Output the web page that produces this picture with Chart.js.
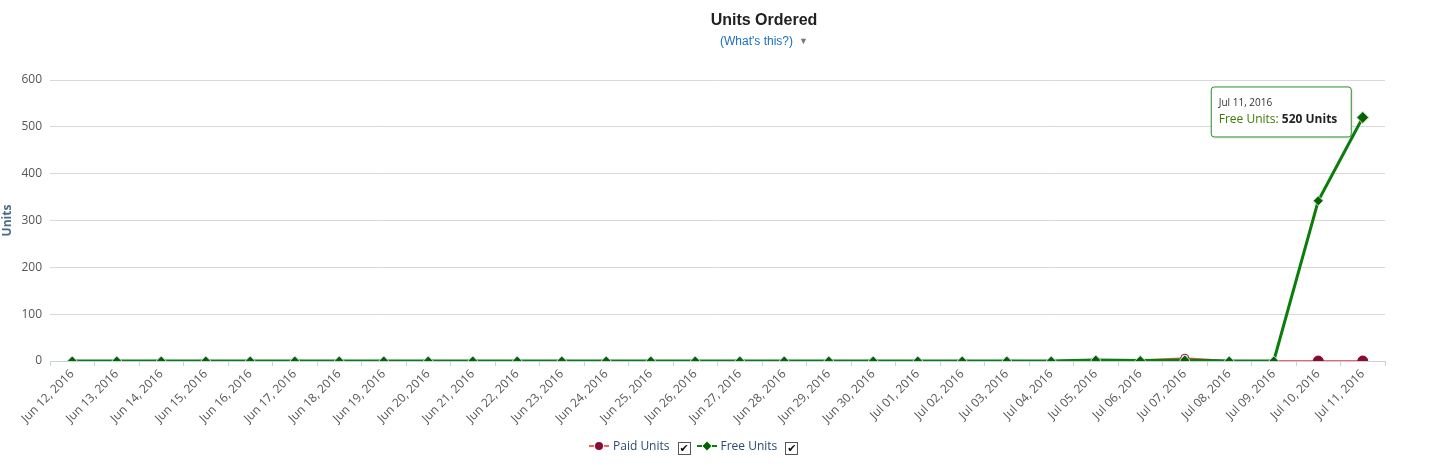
<!DOCTYPE html>
<html>
<head>
<meta charset="utf-8">
<script src="https://cdn.jsdelivr.net/npm/chart.js@4"></script>
<style>
  html, body { margin: 0; padding: 0; background: #fff; }
  .wrap { position: relative; width: 1441px; height: 471px; }
  canvas { position: absolute; left: 0; top: 0; }
  .title { position: absolute; left: 0; width: 1528px; top: 11px; text-align: center;
    font: bold 16px "Liberation Sans", Arial, sans-serif; color: #222; }
  .help { position: absolute; left: 0; width: 1528px; top: 34px; text-align: center;
    font: 12px "Liberation Sans", Arial, sans-serif; color: #1a6fc4; }
  .help .caret { color: #777; font-size: 9px; margin-left: 6px; position: relative; top: -1px; }
  .legend { position: absolute; top: 437px; left: 589px; font: 12px "Open Sans", sans-serif; color: #2d4a6e; }
  .legend span.item { display: inline-block; margin-right: 6px; }
  .legend .sym { display: inline-block; width: 20px; height: 10px; position: relative; vertical-align: -1px; margin-right: 4px; }
  .legend .sym i { position: absolute; top: 4px; height: 2px; width: 5px; }
  .legend .sym b { position: absolute; left: 6px; top: 1px; width: 8px; height: 8px; }
  .legend .box { display: inline-block; width: 11px; height: 11px; border: 1px solid #555; vertical-align: -2px;
    margin-left: 8px; font: bold 11px/11px "DejaVu Sans", sans-serif; text-align: center; color: #111; }
</style>
</head>
<body>
<div class="wrap">
  <canvas id="unitsChart" width="1441" height="471"></canvas>
  <div class="title">Units Ordered</div>
  <div class="help">(What's this?)<span class="caret">&#9660;</span></div>
  <div class="legend" id="legend"></div>
</div>
<script>
  const categories = [
    'Jun 12, 2016', 'Jun 13, 2016', 'Jun 14, 2016', 'Jun 15, 2016', 'Jun 16, 2016',
    'Jun 17, 2016', 'Jun 18, 2016', 'Jun 19, 2016', 'Jun 20, 2016', 'Jun 21, 2016',
    'Jun 22, 2016', 'Jun 23, 2016', 'Jun 24, 2016', 'Jun 25, 2016', 'Jun 26, 2016',
    'Jun 27, 2016', 'Jun 28, 2016', 'Jun 29, 2016', 'Jun 30, 2016', 'Jul 01, 2016',
    'Jul 02, 2016', 'Jul 03, 2016', 'Jul 04, 2016', 'Jul 05, 2016', 'Jul 06, 2016',
    'Jul 07, 2016', 'Jul 08, 2016', 'Jul 09, 2016', 'Jul 10, 2016', 'Jul 11, 2016'
  ];
  const paidUnits = [0, 0, 0, 0, 0, 0, 0, 0, 0, 0, 0, 0, 0, 0, 0, 0, 0, 0, 0, 0, 0, 0, 0, 2, 1, 6, 0, 0, 0, 0];
  const freeUnits = [0, 0, 0, 0, 0, 0, 0, 0, 0, 0, 0, 0, 0, 0, 0, 0, 0, 0, 0, 0, 0, 0, 0, 2, 1, 2, 0, 0, 342, 520];
  const yTicks = [0, 100, 200, 300, 400, 500, 600];

  // tooltip shown on the last free units point
  const tipDataset = 1;
  const tipIndex = 29;
  // paid point drawn hollow (hover remains)
  const hollowPaid = 25;

  const freeRadius = freeUnits.map(function (v, i) { return i === tipIndex ? 6 : 5; });
  // paid markers hidden under the free diamonds where both series meet
  const paidRadius = paidUnits.map(function (v, i) {
    if (i === hollowPaid) return 4;
    return v === freeUnits[i] ? 2.5 : 5;
  });
  const paidFill = paidUnits.map(function (v, i) { return i === hollowPaid ? '#fff' : '#8b0a2e'; });

  const staticTip = {
    id: 'staticTip',
    afterDatasetsDraw: function (chart) {
      const ctx = chart.ctx;
      const pt = chart.getDatasetMeta(tipDataset).data[tipIndex];
      const w = 140, h = 50;
      const left = pt.x - 12 - w;
      const top = pt.y - 31;
      ctx.save();
      ctx.shadowColor = 'rgba(0,0,0,0.15)';
      ctx.shadowBlur = 3;
      ctx.shadowOffsetX = 1;
      ctx.shadowOffsetY = 1;
      ctx.beginPath();
      ctx.roundRect(left + 0.5, top + 0.5, w, h, 3);
      ctx.fillStyle = '#fff';
      ctx.fill();
      ctx.shadowColor = 'transparent';
      ctx.strokeStyle = '#2e8b2e';
      ctx.lineWidth = 1;
      ctx.stroke();
      ctx.textBaseline = 'alphabetic';
      ctx.fillStyle = '#333';
      ctx.font = '10px "Open Sans", sans-serif';
      ctx.fillText(categories[tipIndex], left + 8, top + 20);
      ctx.font = '12px "Open Sans", sans-serif';
      ctx.fillStyle = '#3a7d00';
      const lbl = chart.data.datasets[tipDataset].label + ': ';
      ctx.fillText(lbl, left + 8, top + 37);
      const lw = ctx.measureText(lbl).width;
      ctx.font = 'bold 12px "Open Sans", sans-serif';
      ctx.fillStyle = '#222';
      ctx.fillText(freeUnits[tipIndex] + ' Units', left + 8 + lw, top + 37);
      ctx.restore();
    }
  };

  const ctx = document.getElementById('unitsChart').getContext('2d');

  const chart = new Chart(ctx, {
    type: 'line',
    data: {
      labels: categories,
      datasets: [{
        label: 'Paid Units',
        data: paidUnits,
        borderColor: '#ff5c5c',
        borderWidth: 2,
        backgroundColor: '#8b0a2e',
        pointBackgroundColor: paidFill,
        pointBorderColor: '#8b0a2e',
        pointBorderWidth: 1,
        pointRadius: paidRadius,
        pointStyle: 'circle',
        order: 2,
      },
      {
        label: 'Free Units',
        data: freeUnits,
        borderColor: '#0a7d0a',
        borderWidth: 3,
        backgroundColor: '#006400',
        pointBackgroundColor: '#006400',
        pointBorderColor: '#d4dad4',
        pointBorderWidth: 1,
        pointRadius: freeRadius,
        pointStyle: 'rectRot',
        order: 1,
      }]
    },
    options: {
      responsive: false,
      animation: false,
      layout: { padding: { top: 80, right: 56, left: 0, bottom: 0 } },
      plugins: {
        legend: { display: false },
        tooltip: { enabled: false },
        title: { display: false },
      },
      scales: {
        x: {
          offset: true,
          grid: {
            offset: true,
            drawOnChartArea: false,
            drawTicks: true,
            tickLength: 5,
            color: '#c6d2de',
          },
          border: { color: '#c6d2de' },
          ticks: {
            minRotation: 45,
            maxRotation: 45,
            autoSkip: false,
            padding: 1,
            color: '#555',
            font: { family: '"Open Sans", sans-serif', size: 12 },
          },
          afterFit: function (scale) { scale.height = 110; },
        },
        y: {
          min: 0,
          max: 600,
          afterBuildTicks: function (scale) {
            scale.ticks = yTicks.map(function (v) { return { value: v }; });
          },
          grid: { color: '#d8d8d8', drawTicks: false },
          border: { display: false },
          ticks: {
            padding: 8,
            color: '#555',
            font: { family: '"Open Sans", sans-serif', size: 12 },
          },
          title: {
            display: true,
            text: 'Units',
            color: '#4d6a8a',
            padding: { top: 0, bottom: 0 },
            font: { family: '"Open Sans", sans-serif', size: 12, weight: 'bold' },
          },
          afterFit: function (scale) { scale.width = 50; },
        }
      }
    },
    plugins: [staticTip]
  });

  // legend with checkboxes
  const legend = document.getElementById('legend');
  chart.data.datasets.forEach(function (ds) {
    const item = document.createElement('span');
    item.className = 'item';
    const isDiamond = ds.pointStyle === 'rectRot';
    item.innerHTML =
      '<span class="sym">' +
      '<i style="left:0;background:' + ds.borderColor + '"></i>' +
      '<i style="left:15px;background:' + ds.borderColor + '"></i>' +
      '<b style="background:' + ds.backgroundColor + ';' +
      (isDiamond ? 'transform:rotate(45deg) scale(0.8);' : 'border-radius:50%;') + '"></b>' +
      '</span>' + ds.label + '<span class="box">&#10004;</span>';
    legend.appendChild(item);
  });
</script>
</body>
</html>
